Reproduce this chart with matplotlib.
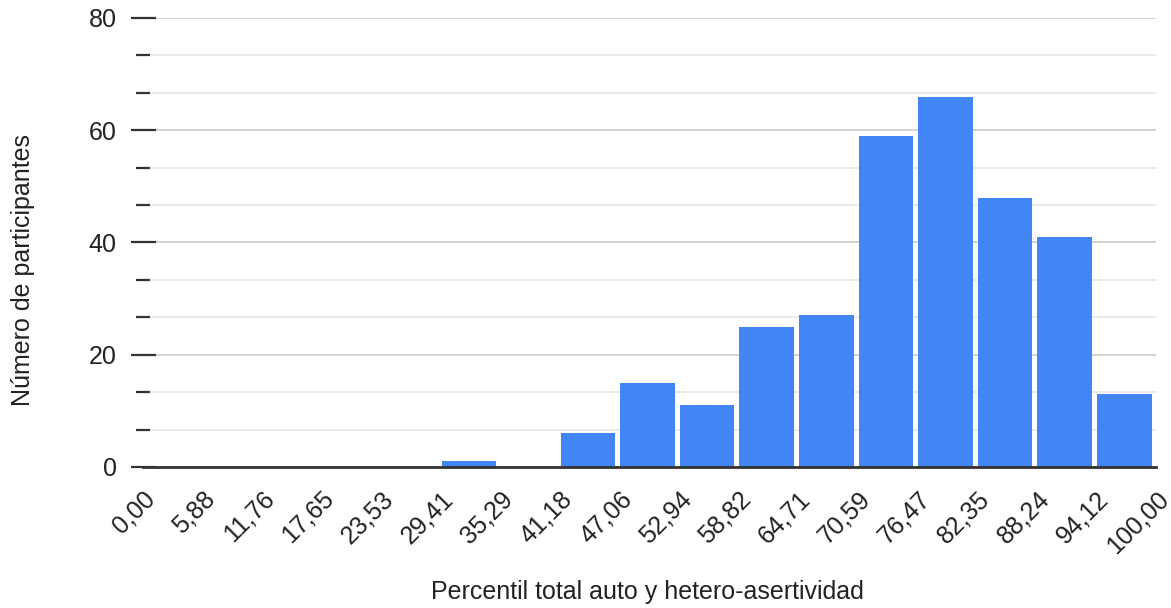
import numpy as np
import matplotlib
matplotlib.use('Agg')
import matplotlib.pyplot as plt
from matplotlib.ticker import MultipleLocator, FixedLocator

plt.rcParams['font.family'] = ['Liberation Sans', 'DejaVu Sans']

# limites de los intervalos (percentiles) y frecuencias
edges = [0.00, 5.88, 11.76, 17.65, 23.53, 29.41, 35.29, 41.18, 47.06, 52.94,
         58.82, 64.71, 70.59, 76.47, 82.35, 88.24, 94.12, 100.00]
counts = [0, 0, 0, 0, 0, 1, 0, 6, 15, 11, 25, 27, 59, 66, 48, 41, 13]
tick_labels = ['0,00', '5,88', '11,76', '17,65', '23,53', '29,41', '35,29', '41,18',
               '47,06', '52,94', '58,82', '64,71', '70,59', '76,47', '82,35', '88,24',
               '94,12', '100,00']

txt = '#222222'
fs = 18
fig = plt.figure(figsize=(11.71, 6.08), dpi=100)
ax = fig.add_axes([143 / 1171, 1 - 467 / 608, (1156 - 143) / 1171, (467 - 18) / 608])

edges_a = np.array(edges)
widths = np.diff(edges_a)
ax.bar(edges_a[:-1] + widths * 0.01, counts, width=widths * 0.915, align='edge',
       color='#4285f4', zorder=3)

ax.set_xlim(0, 100)
ax.set_ylim(0, 80)

ax.yaxis.set_major_locator(MultipleLocator(20))
ax.yaxis.set_minor_locator(FixedLocator([i * 20 / 3 for i in range(13) if i % 3]))
ax.grid(True, which='major', axis='y', color='#cccccc', lw=1.2, zorder=0)
ax.grid(True, which='minor', axis='y', color='#e6e6e6', lw=1.2, zorder=0)
ax.tick_params(axis='y', which='major', direction='inout', length=18, width=1.6,
               color='#333333', pad=10, labelsize=fs, labelcolor=txt)
ax.tick_params(axis='y', which='minor', direction='inout', length=9.5, width=1.6,
               color='#333333')

ax.set_xticks(edges)
ax.set_xticklabels(tick_labels, rotation=45, ha='right', rotation_mode='anchor')
ax.tick_params(axis='x', length=0, pad=14, labelsize=fs, labelcolor=txt)

for s in ['top', 'right', 'left']:
    ax.spines[s].set_visible(False)
ax.spines['bottom'].set_color('#333333')
ax.spines['bottom'].set_linewidth(2)
ax.spines['bottom'].set_zorder(4)

fig.text(647 / 1171, 1 - 592 / 608, 'Percentil total auto y hetero-asertividad',
         ha='center', va='center', fontsize=fs, color=txt)
fig.text(23 / 1171, 1 - 270 / 608, 'Número de participantes', rotation=90,
         ha='center', va='center', fontsize=fs, color=txt)

fig.savefig('out.png', dpi=100)
